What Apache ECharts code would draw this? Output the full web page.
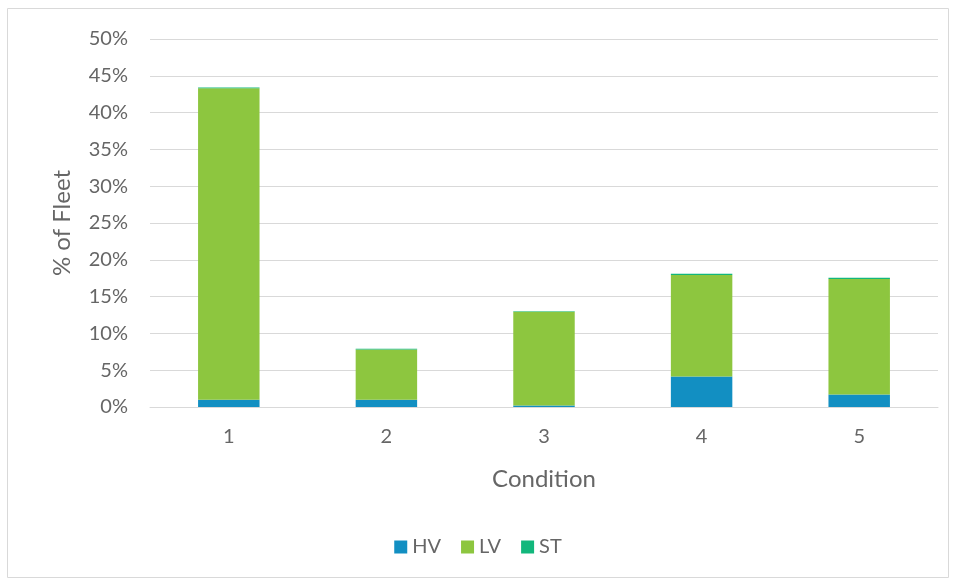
<!DOCTYPE html>
<html>
<head>
<meta charset="utf-8">
<script src="https://cdn.jsdelivr.net/npm/echarts@6/dist/echarts.min.js"></script>
<style>
  html, body { margin: 0; padding: 0; background: #fff; }
  #chart { width: 956px; height: 580px; }
</style>
</head>
<body>
<div id="chart"></div>
<script>
// Fleet share by condition, stacked by vehicle class
const conditions = ['1', '2', '3', '4', '5'];
const hv = [1.0, 1.0, 0.2, 4.15, 1.7];
const lv = [42.3, 6.8, 12.75, 13.8, 15.7];
const st = [0.1, 0.1, 0.05, 0.15, 0.15];
const yTicks = [0, 5, 10, 15, 20, 25, 30, 35, 40, 45, 50];

const fontFamily = 'Lato, "Open Sans", sans-serif';
const textColor = '#666666';

const chart = echarts.init(document.getElementById('chart'), null, { renderer: 'canvas' });

const barSeries = (name, data, color) => ({
  name,
  type: 'bar',
  stack: 'fleet',
  data,
  barWidth: '39%',
  itemStyle: { color },
  emphasis: { disabled: true }
});

chart.setOption({
  animation: false,
  textStyle: { fontFamily },
  graphic: [{
    type: 'rect',
    shape: { x: 7.5, y: 8.5, width: 941, height: 569 },
    style: { fill: 'none', stroke: '#d9d9d9', lineWidth: 1 },
    silent: true
  }],
  grid: { left: 150, right: 18, top: 39, bottom: 173 },
  legend: {
    bottom: 18,
    left: 'center',
    itemWidth: 13,
    itemHeight: 13,
    itemGap: 20,
    icon: 'rect',
    textStyle: { color: textColor, fontSize: 20, fontFamily },
    data: ['HV', 'LV', 'ST']
  },
  xAxis: {
    type: 'category',
    data: conditions,
    name: 'Condition',
    nameLocation: 'middle',
    nameGap: 60,
    nameTextStyle: { color: textColor, fontSize: 24, fontFamily },
    axisLine: { show: true, lineStyle: { color: '#d9d9d9', width: 1 } },
    axisTick: { show: false },
    axisLabel: { color: textColor, fontSize: 20, margin: 20 }
  },
  yAxis: {
    type: 'value',
    min: yTicks[0],
    max: yTicks[yTicks.length - 1],
    interval: 5,
    name: '% of Fleet',
    nameLocation: 'middle',
    nameGap: 76,
    nameRotate: 90,
    nameTextStyle: { color: textColor, fontSize: 24, fontFamily },
    axisLine: { show: false },
    axisTick: { show: false },
    axisLabel: { color: textColor, fontSize: 20, margin: 22, formatter: v => v + '%' },
    splitLine: { lineStyle: { color: '#d9d9d9', width: 1 } }
  },
  series: [
    barSeries('HV', hv, '#128fc2'),
    barSeries('LV', lv, '#8dc63f'),
    barSeries('ST', st, '#12b77c')
  ]
});
</script>
</body>
</html>
